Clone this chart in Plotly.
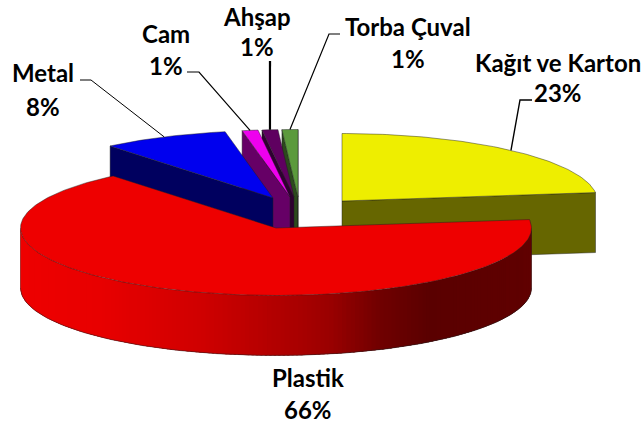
import math
import plotly.graph_objects as go

# ---- data ----
categories = ["Kağıt ve Karton", "Plastik", "Metal", "Cam", "Ahşap", "Torba Çuval"]
shares = [23, 66, 8, 1, 1, 1]
pct_labels = ["23%", "66%", "8%", "1%", "1%", "1%"]

# ---- styling / layout ----
top_colors = ["#EEEE00", "#EE0000", "#0000EE", "#EE00EE", "#5F0060", "#5B9A3C"]
wall_colors = ["#666600", "#600000", "#00005F", "#660066", "#2E0030", "#2B4A1C"]
centers = [(342, 201), (276, 228), (273, 198), (290, 197), (294, 197), (298, 197)]
RX, RY, DEPTH = 255.5, 67.5, 60
name_pos = [(558, 62), (308, 377), (43, 72), (166, 33), (257, 16), (408, 26)]
pct_pos = [(558, 92), (308, 409), (43, 106), (166, 65), (257, 46), (408, 58)]
leader_elbows = [
    [(532, 100), (520, 100)],
    None,
    [(80, 80), (91, 80)],
    [(187, 72), (199, 72)],
    [(270, 61)],
    [(340, 34), (329, 34)],
]
leader_widths = [1.4, 0, 1, 1.2, 2.2, 1.2]
draw_order = [0, 5, 4, 3, 2, 1]
EDGE = "rgba(30,30,30,0.65)"
FONT = "Lato"

grad_x = [21, 100, 200, 300, 330, 380, 430, 532]
grad_r = [238, 232, 208, 168, 154, 112, 90, 96]


def grad(x):
    for i in range(len(grad_x) - 1):
        if x <= grad_x[i + 1]:
            t = (x - grad_x[i]) / (grad_x[i + 1] - grad_x[i])
            return f"rgb({round(grad_r[i] + t * (grad_r[i + 1] - grad_r[i]))},0,0)"
    return f"rgb({grad_r[-1]},0,0)"


def rim(c, a):
    r = math.radians(a)
    return c[0] + RX * math.sin(r), c[1] - RY * math.cos(r)


def arc(c, a, b, step=1.0):
    n = max(2, int(abs(b - a) / step))
    return [rim(c, a + (b - a) * i / n) for i in range(n + 1)]


def poly(fig, pts, fill, line=EDGE, width=0.7):
    fig.add_trace(go.Scatter(
        x=[p[0] for p in pts] + [pts[0][0]], y=[p[1] for p in pts] + [pts[0][1]],
        mode="lines", fill="toself", fillcolor=fill,
        line=dict(color=line, width=width), hoverinfo="skip", showlegend=False))


def down(pts):
    return [(x, y + DEPTH) for x, y in pts]


fig = go.Figure()

# wedge angles from the shares
starts, ends, acc = [], [], 0.0
for s in shares:
    starts.append(acc)
    acc += s * 360.0 / sum(shares)
    ends.append(acc)

for i in draw_order:
    c, a, b = centers[i], starts[i], ends[i]
    wall = wall_colors[i]
    # cut faces that look towards the viewer
    if math.sin(math.radians(a)) < -1e-6:
        pts = [c, rim(c, a)]
        poly(fig, pts + down(pts)[::-1], wall)
    if math.sin(math.radians(b)) > 0 and math.cos(math.radians(b)) > 0:
        pts = [c, rim(c, b)]
        poly(fig, pts + down(pts)[::-1], wall)
    # outer wall, front half only
    fa, fb = max(a, 90), min(b, 270)
    if fb > fa:
        n = int(fb - fa)
        d = (fb - fa) / n
        for k in range(n):
            a0 = fa + d * k
            a1 = min(fb, a0 + 2.5 * d)  # overlap the next strip so no seams show
            mid = rim(c, a0 + d / 2)
            strip = arc(c, a0, a1, 0.5)
            col = grad(mid[0])
            poly(fig, strip + down(strip)[::-1], col, col, 0)
        edge = arc(c, fa, fb)
        fig.add_trace(go.Scatter(
            x=[p[0] for p in edge], y=[p[1] + DEPTH for p in edge], mode="lines",
            line=dict(color=EDGE, width=0.8), hoverinfo="skip", showlegend=False))
        for v in (edge[0], edge[-1]):
            fig.add_trace(go.Scatter(
                x=[v[0], v[0]], y=[v[1], v[1] + DEPTH], mode="lines",
                line=dict(color=EDGE, width=0.5), hoverinfo="skip", showlegend=False))
    # top surface
    poly(fig, [c] + arc(c, a, b), top_colors[i])

# leader lines ending on each wedge's rim at its mid angle
for i, elbows in enumerate(leader_elbows):
    if not elbows:
        continue
    end = rim(centers[i], (starts[i] + ends[i]) / 2)
    pts = elbows + [end]
    fig.add_trace(go.Scatter(
        x=[p[0] for p in pts], y=[p[1] for p in pts], mode="lines",
        line=dict(color="#000000", width=leader_widths[i]), hoverinfo="skip", showlegend=False))

annotations = []
for i, cat in enumerate(categories):
    for txt, (x, y) in ((cat, name_pos[i]), (pct_labels[i], pct_pos[i])):
        annotations.append(dict(
            x=x, y=y, xref="x", yref="y", text=f"<b>{txt}</b>", showarrow=False,
            font=dict(family=FONT, size=24, color="#000000", weight=900),
            xanchor="center", yanchor="middle"))

fig.update_layout(
    width=643, height=424, margin=dict(l=0, r=0, t=0, b=0),
    paper_bgcolor="white", plot_bgcolor="white", showlegend=False,
    xaxis=dict(range=[0, 643], visible=False, fixedrange=True),
    yaxis=dict(range=[424, 0], visible=False, fixedrange=True),
    annotations=annotations)

# the page body would otherwise offset the plot by its default margin
fig.write_html("out.html", config={"displayModeBar": False},
               post_script="document.body.style.margin='0';document.body.style.overflow='hidden';")
